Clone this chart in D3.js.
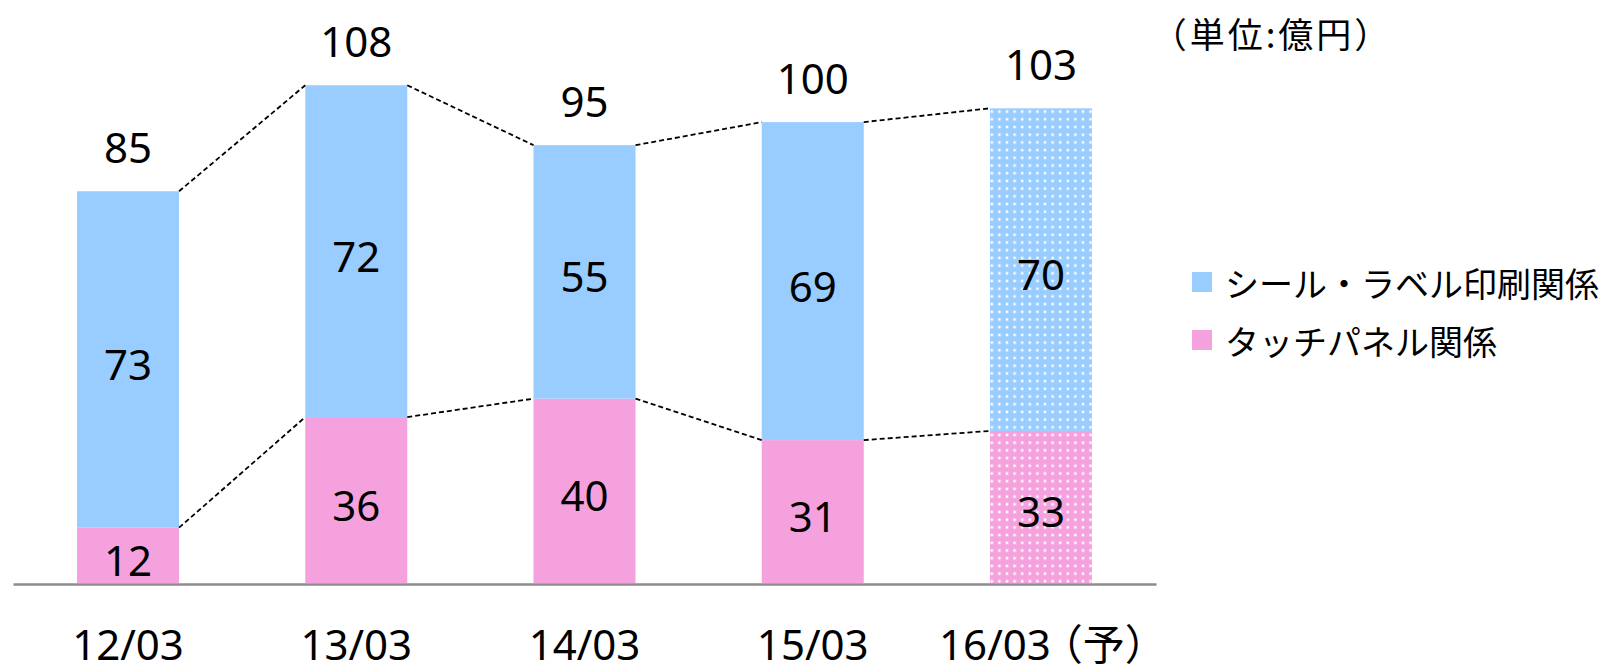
<!DOCTYPE html>
<html>
<head>
<meta charset="utf-8">
<script src="https://cdn.jsdelivr.net/npm/d3@7"></script>
<style>
  html, body { margin: 0; padding: 0; background: #fff; }
  svg { display: block; }
</style>
</head>
<body>
<svg id="chart" width="1608" height="672"></svg>
<script>
const categories = ["12/03", "13/03", "14/03", "15/03", "16/03"];
const categorySuffix = ["", "", "", "", "（予）"];
const touchPanel = [12, 36, 40, 31, 33];
const sealLabel = [73, 72, 55, 69, 70];
const totals = [85, 108, 95, 100, 103];
const forecast = [false, false, false, false, true];
const seriesNames = ["シール・ラベル印刷関係", "タッチパネル関係"];
const unitLabel = "（単位:億円）";

const colors = { seal: "#99CCFF", touch: "#F5A1DE" };
const numFont = "'Noto Sans', 'Open Sans', sans-serif";
const jpFont = "'Noto Sans CJK JP', 'Noto Sans', sans-serif";

const svg = d3.select("#chart");

const x = d3.scaleBand()
  .domain(categories)
  .range([13, 1156])
  .paddingInner(0.553)
  .paddingOuter(0.2805);

const y = d3.scaleLinear().domain([0, 126.5]).range([583, 0]);

// patterns for forecast bar
const defs = svg.append("defs");
function makePattern(id, color) {
  const p = defs.append("pattern")
    .attr("id", id)
    .attr("patternUnits", "userSpaceOnUse")
    .attr("width", 7.6).attr("height", 7.7);
  p.append("rect").attr("width", 7.6).attr("height", 7.7).attr("fill", color);
  p.append("rect").attr("x", 2.3).attr("y", 2.3).attr("width", 3).attr("height", 3)
    .attr("fill", "#fff").attr("opacity", 0.45);
  p.append("rect").attr("x", 2.8).attr("y", 2.8).attr("width", 2).attr("height", 2)
    .attr("fill", "#fff");
}
makePattern("patSeal", colors.seal);
makePattern("patTouch", colors.touch);

const data = categories.map((c, i) => ({
  cat: c, touch: touchPanel[i], seal: sealLabel[i], total: totals[i], fc: forecast[i], i
}));

// bars
const g = svg.append("g");
g.selectAll("rect.touch").data(data).join("rect")
  .attr("class", "touch")
  .attr("x", d => x(d.cat))
  .attr("width", x.bandwidth())
  .attr("y", d => y(d.touch))
  .attr("height", d => y(0) - y(d.touch))
  .attr("fill", d => d.fc ? "url(#patTouch)" : colors.touch);

g.selectAll("rect.seal").data(data).join("rect")
  .attr("class", "seal")
  .attr("x", d => x(d.cat))
  .attr("width", x.bandwidth())
  .attr("y", d => y(d.touch + d.seal))
  .attr("height", d => y(d.touch) - y(d.touch + d.seal))
  .attr("fill", d => d.fc ? "url(#patSeal)" : colors.seal);

// connector lines
const pairs = d3.pairs(data);
const connectors = [];
pairs.forEach(([a, b]) => {
  connectors.push({ x1: x(a.cat) + x.bandwidth(), y1: y(a.touch), x2: x(b.cat), y2: y(b.touch) });
  connectors.push({ x1: x(a.cat) + x.bandwidth(), y1: y(a.touch + a.seal), x2: x(b.cat), y2: y(b.touch + b.seal) });
});
g.selectAll("line.conn").data(connectors).join("line")
  .attr("class", "conn")
  .attr("x1", d => d.x1).attr("y1", d => d.y1)
  .attr("x2", d => d.x2).attr("y2", d => d.y2)
  .attr("stroke", "#000").attr("stroke-width", 1.8)
  .attr("stroke-dasharray", "5,3");

// baseline axis
const xAxis = d3.axisBottom(x).tickSize(0).tickFormat(() => "");
const axG = svg.append("g").attr("transform", `translate(0,${y(0) + 1})`).call(xAxis);
axG.select(".domain").attr("stroke", "#8C8C8C").attr("stroke-width", 2.6);

// category labels
const catText = svg.append("g").selectAll("text").data(data).join("text")
  .attr("x", d => x(d.cat) + x.bandwidth() / 2 + (categorySuffix[d.i] ? 12 : 0))
  .attr("y", 660)
  .attr("text-anchor", "middle")
  .attr("font-family", numFont)
  .attr("font-size", 42)
  .attr("fill", "#000");
catText.append("tspan").text(d => d.cat);
catText.filter(d => categorySuffix[d.i]).append("tspan")
  .attr("font-family", jpFont)
  .attr("font-size", 42)
  .attr("dx", -10)
  .text(d => categorySuffix[d.i]);

// segment labels
const segG = svg.append("g")
  .attr("font-family", numFont).attr("font-size", 42)
  .attr("text-anchor", "middle").attr("fill", "#000");
segG.selectAll("text.t").data(data).join("text")
  .attr("x", d => x(d.cat) + x.bandwidth() / 2)
  .attr("y", d => (y(0) + y(d.touch)) / 2 + 4)
  .attr("dominant-baseline", "central")
  .text(d => d.touch);
segG.selectAll("text.s").data(data).join("text")
  .attr("x", d => x(d.cat) + x.bandwidth() / 2)
  .attr("y", d => (y(d.touch) + y(d.touch + d.seal)) / 2 + 4)
  .attr("dominant-baseline", "central")
  .text(d => d.seal);
segG.selectAll("text.tot").data(data).join("text")
  .attr("x", d => x(d.cat) + x.bandwidth() / 2)
  .attr("y", d => y(d.total) - 28)
  .text(d => d.total);

// legend
const legend = svg.append("g");
const legendItems = [
  { name: seriesNames[0], color: colors.seal, cy: 282 },
  { name: seriesNames[1], color: colors.touch, cy: 340 }
];
legend.selectAll("rect").data(legendItems).join("rect")
  .attr("x", 1192).attr("y", d => d.cy - 10)
  .attr("width", 20).attr("height", 20)
  .attr("fill", d => d.color);
legend.selectAll("text").data(legendItems).join("text")
  .attr("x", 1225).attr("y", d => d.cy)
  .attr("dominant-baseline", "central")
  .attr("font-family", jpFont).attr("font-size", 34)
  .attr("fill", "#000")
  .text(d => d.name);

// unit label
svg.append("text")
  .attr("x", 1272).attr("y", 32)
  .attr("text-anchor", "middle")
  .attr("dominant-baseline", "central")
  .attr("font-family", jpFont).attr("font-size", 35)
  .attr("letter-spacing", 3)
  .attr("fill", "#000")
  .text(unitLabel);
</script>
</body>
</html>
